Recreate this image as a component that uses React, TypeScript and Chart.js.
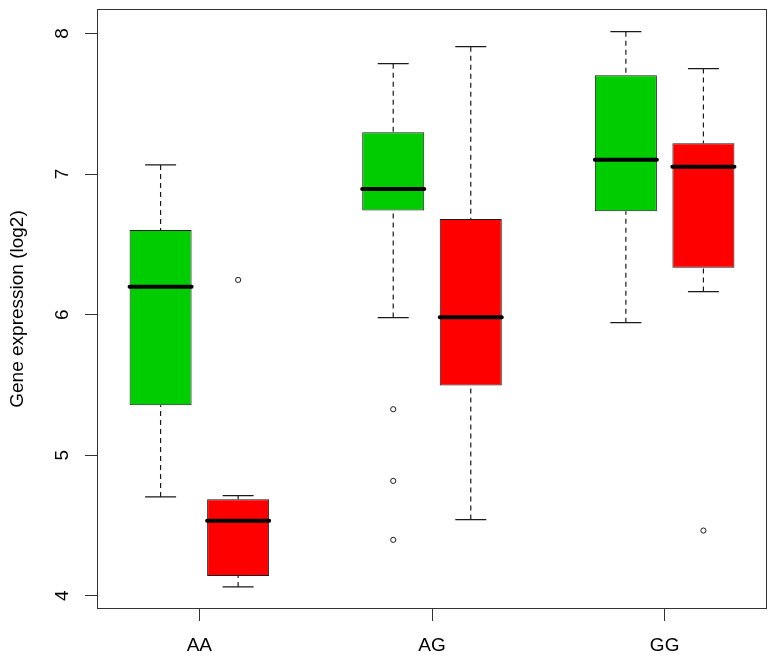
import React, { useEffect, useRef } from 'react';
import { Chart, registerables } from 'chart.js';

Chart.register(...registerables);

// ---- data ----
const genotypes = ['AA', 'AG', 'GG'];
const yTicks = [4, 5, 6, 7, 8];

const greenMin = [4.703, 5.979, 5.943];
const greenQ1 = [5.356, 6.74, 6.735];
const greenMedian = [6.199, 6.894, 7.102];
const greenQ3 = [6.602, 7.297, 7.703];
const greenMax = [7.065, 7.785, 8.013];
const greenOutliers: number[][] = [[], [5.327, 4.817, 4.398], []];

const redMin = [4.063, 4.542, 6.164];
const redQ1 = [4.14, 5.495, 6.334];
const redMedian = [4.533, 5.982, 7.051];
const redQ3 = [4.687, 6.681, 7.219];
const redMax = [4.713, 7.906, 7.75];
const redOutliers: number[][] = [[6.247], [], [4.464]];

// ---- layout helpers ----
const greenPos = (i: number) => 3 * i + 1;
const redPos = (i: number) => 3 * i + 2;
const groupPos = (i: number) => 3 * i + 1.5;
const HALF_BOX = 0.4;
const HALF_STAPLE = 0.2;

type P = { x: number; y: number | null };

function medianSegs(pos: (i: number) => number, med: number[]): P[] {
  const out: P[] = [];
  med.forEach((m, i) => {
    out.push({ x: pos(i) - HALF_BOX, y: m }, { x: pos(i) + HALF_BOX, y: m }, { x: pos(i) + 0.5, y: null });
  });
  return out;
}
function whiskerSegs(pos: (i: number) => number, lo: number[], q1: number[], q3: number[], hi: number[]): P[] {
  const out: P[] = [];
  lo.forEach((_, i) => {
    const x = pos(i);
    out.push({ x, y: hi[i] }, { x, y: q3[i] }, { x, y: null });
    out.push({ x, y: lo[i] }, { x, y: q1[i] }, { x, y: null });
  });
  return out;
}
function stapleSegs(pos: (i: number) => number, lo: number[], hi: number[]): P[] {
  const out: P[] = [];
  lo.forEach((_, i) => {
    const x = pos(i);
    out.push({ x: x - HALF_STAPLE, y: hi[i] }, { x: x + HALF_STAPLE, y: hi[i] }, { x, y: null });
    out.push({ x: x - HALF_STAPLE, y: lo[i] }, { x: x + HALF_STAPLE, y: lo[i] }, { x, y: null });
  });
  return out;
}
function outlierPts(pos: (i: number) => number, outs: number[][]): P[] {
  const out: P[] = [];
  outs.forEach((arr, i) => arr.forEach((v) => out.push({ x: pos(i), y: v })));
  return out;
}

const INK = '#1a1a1a';
const FONT = "'Liberation Sans', Arial, Helvetica, sans-serif";
const TICK_LEN = 12;
const Y_LABEL_PAD = 17;
const LABEL_SIZE = 19;

const framePlugin = {
  id: 'frame',
  afterDatasetsDraw(chart: any) {
    const { ctx, chartArea: a } = chart;
    ctx.save();
    ctx.strokeStyle = '#333';
    ctx.lineWidth = 1;
    ctx.strokeRect(Math.round(a.left) + 0.5, Math.round(a.top) + 0.5, Math.round(a.right - a.left) - 1, Math.round(a.bottom - a.top) - 1);
    ctx.restore();
  },
};

// R-style y tick labels, parallel to the axis (rotated), placed with the y scale
const yLabelPlugin = {
  id: 'yRotatedLabels',
  afterDraw(chart: any) {
    const scale = chart.scales.y;
    const { ctx } = chart;
    ctx.save();
    ctx.fillStyle = '#000';
    ctx.font = `${LABEL_SIZE}px ${FONT}`;
    ctx.textAlign = 'center';
    ctx.textBaseline = 'middle';
    const x = scale.right - TICK_LEN - Y_LABEL_PAD - 5;
    yTicks.forEach((v) => {
      const y = scale.getPixelForValue(v);
      ctx.save();
      ctx.translate(x, y);
      ctx.rotate(-Math.PI / 2);
      ctx.fillText(String(v), 0, 0);
      ctx.restore();
    });
    ctx.restore();
  },
};

export default function App() {
  const ref = useRef<HTMLCanvasElement>(null);

  useEffect(() => {
    if (!ref.current) return;
    Chart.defaults.font.family = FONT;
    const chart = new Chart(ref.current, {
      type: 'bar',
      data: {
        datasets: [
          {
            type: 'line',
            label: 'medians',
            data: [...medianSegs(greenPos, greenMedian), ...medianSegs(redPos, redMedian)],
            borderColor: '#000',
            borderWidth: 4,
            borderCapStyle: 'round',
            pointRadius: 0,
            spanGaps: false,
            fill: false,
            order: 0,
          } as any,
          {
            type: 'line',
            label: 'whiskers',
            data: [
              ...whiskerSegs(greenPos, greenMin, greenQ1, greenQ3, greenMax),
              ...whiskerSegs(redPos, redMin, redQ1, redQ3, redMax),
            ],
            borderColor: INK,
            borderWidth: 1.2,
            borderDash: [5, 4],
            pointRadius: 0,
            spanGaps: false,
            fill: false,
            order: 1,
          } as any,
          {
            type: 'line',
            label: 'staples',
            data: [...stapleSegs(greenPos, greenMin, greenMax), ...stapleSegs(redPos, redMin, redMax)],
            borderColor: INK,
            borderWidth: 1.2,
            pointRadius: 0,
            spanGaps: false,
            fill: false,
            order: 1,
          } as any,
          {
            type: 'scatter',
            label: 'outliers',
            data: [...outlierPts(greenPos, greenOutliers), ...outlierPts(redPos, redOutliers)],
            pointRadius: 2.6,
            pointBorderWidth: 1,
            borderColor: INK,
            backgroundColor: 'rgba(0,0,0,0)',
            showLine: false,
            order: 1,
          } as any,
          {
            type: 'bar',
            label: 'green',
            data: genotypes.map((_, i) => ({ x: greenPos(i), y: [greenQ1[i], greenQ3[i]] })),
            backgroundColor: '#00CD00',
            borderColor: INK,
            borderWidth: 1,
            borderSkipped: false,
            grouped: false,
            categoryPercentage: 0.8,
            barPercentage: 1,
            order: 2,
          } as any,
          {
            type: 'bar',
            label: 'red',
            data: genotypes.map((_, i) => ({ x: redPos(i), y: [redQ1[i], redQ3[i]] })),
            backgroundColor: '#FF0000',
            borderColor: INK,
            borderWidth: 1,
            borderSkipped: false,
            grouped: false,
            categoryPercentage: 0.8,
            barPercentage: 1,
            order: 2,
          } as any,
        ],
      },
      options: {
        animation: false,
        responsive: false,
        devicePixelRatio: 1,
        events: [],
        layout: { padding: { left: 0, top: 9, right: 10, bottom: 0 } },
        plugins: { legend: { display: false }, tooltip: { enabled: false } },
        scales: {
          x: {
            type: 'linear',
            min: 0.18,
            max: 8.82,
            offset: false,
            grid: { offset: false, drawOnChartArea: false, drawTicks: true, tickLength: TICK_LEN, color: '#333', lineWidth: 1 },
            border: { display: false },
            ticks: {
              autoSkip: false,
              maxRotation: 0,
              minRotation: 0,
              padding: 13,
              color: '#000',
              font: { size: LABEL_SIZE },
              callback: (_v: any, idx: number) => genotypes[idx],
            },
            afterBuildTicks: (scale: any) => {
              scale.ticks = genotypes.map((_, i) => ({ value: groupPos(i) }));
            },
            afterFit: (scale: any) => {
              scale.height = 52;
              scale.paddingLeft = 0;
              scale.paddingRight = 0;
            },
          },
          y: {
            type: 'linear',
            min: 3.906,
            max: 8.174,
            grid: { offset: false, drawOnChartArea: false, drawTicks: true, tickLength: TICK_LEN, color: '#333', lineWidth: 1 },
            border: { display: false },
            ticks: { display: false },
            afterBuildTicks: (scale: any) => {
              scale.ticks = yTicks.map((v) => ({ value: v }));
            },
            afterFit: (scale: any) => {
              scale.width = 97;
              scale.paddingTop = 0;
              scale.paddingBottom = 0;
            },
            title: {
              display: true,
              text: 'Gene expression (log2)',
              color: '#000',
              font: { size: LABEL_SIZE },
              padding: { top: 6, bottom: 0 },
            },
          },
        },
      } as any,
      plugins: [framePlugin, yLabelPlugin],
    });
    return () => chart.destroy();
  }, []);

  return (
    <div style={{ position: 'fixed', left: 0, top: 0, width: 777, height: 661, background: '#fff' }}>
      <canvas ref={ref} width={777} height={661} style={{ display: 'block', width: 777, height: 661 }} />
    </div>
  );
}
